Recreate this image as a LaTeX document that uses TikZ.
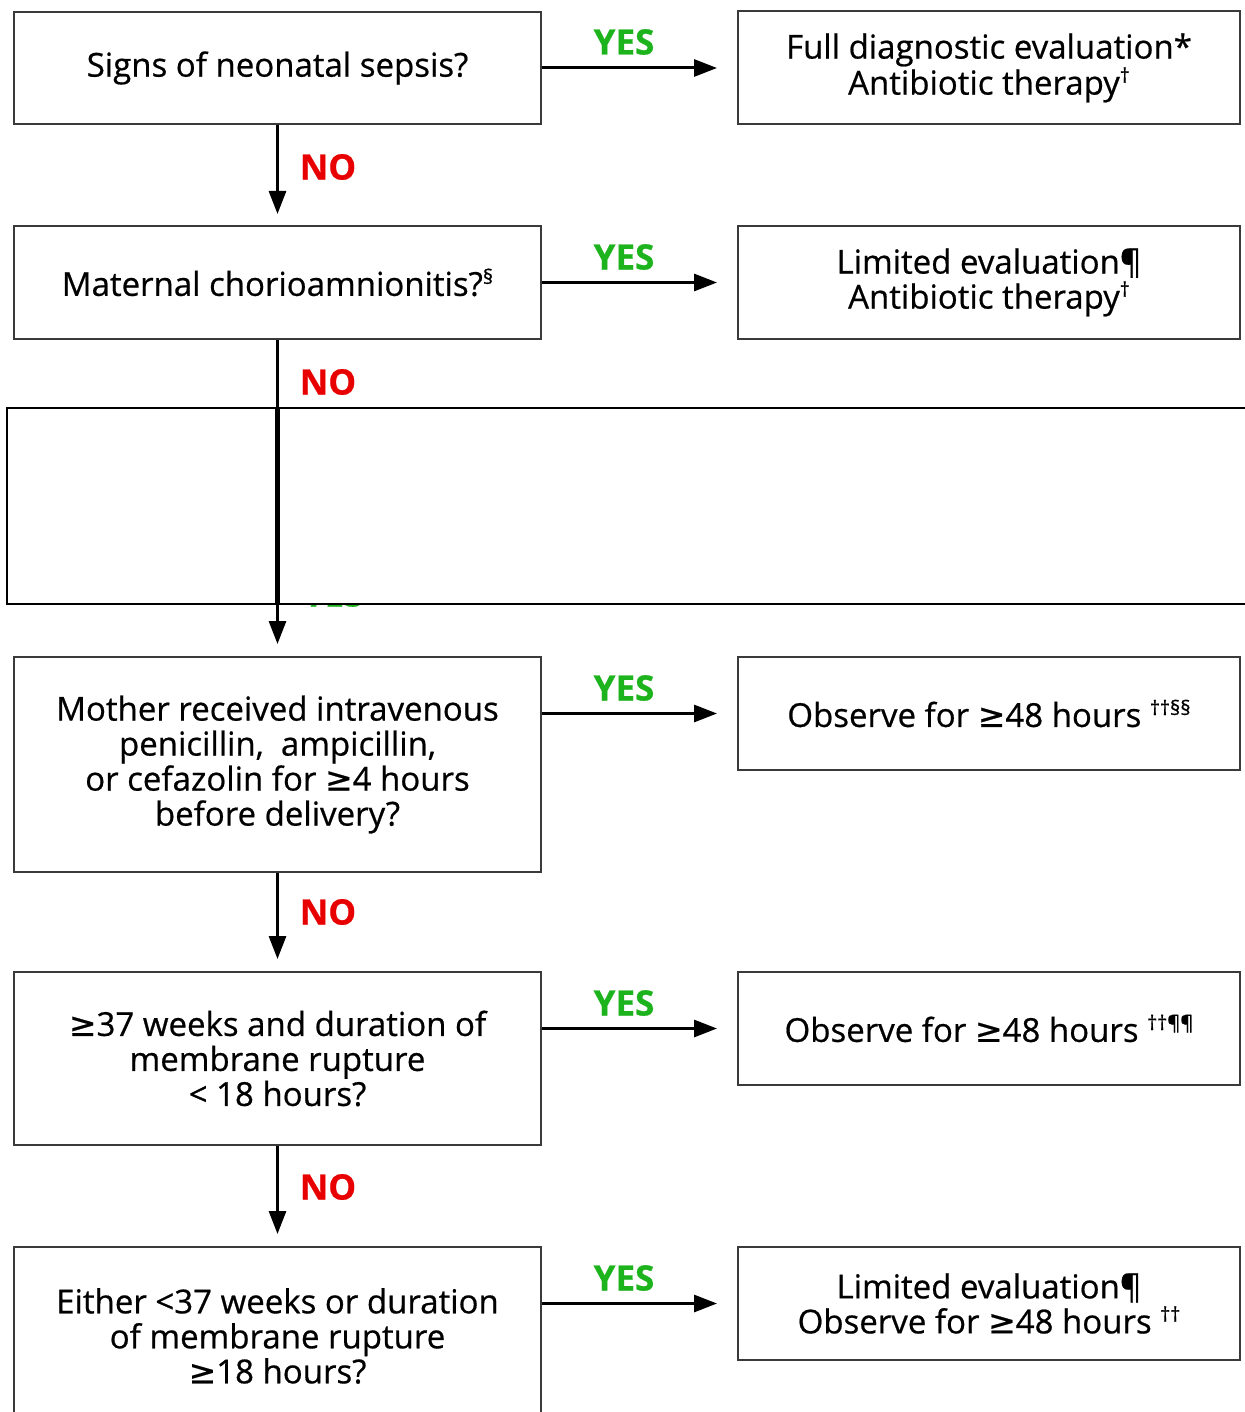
\documentclass[tikz,border=0pt]{standalone}
\usepackage{fontspec}
\setmainfont[FakeBold=0.6]{Open Sans}
\newfontfamily\symf[FakeBold=0.6]{DejaVu Sans}
\usetikzlibrary{arrows.meta}
\definecolor{boxgray}{HTML}{3A3A3A}
\definecolor{yesgreen}{HTML}{1DB31D}
\definecolor{nored}{HTML}{E80000}
\newcommand\gesym{{\symf ≥}}
\newcommand\mysup[1]{\raisebox{0.36em}{\fontsize{20}{20}\selectfont #1}}
\newcommand\mainsz{\fontsize{33}{35}\selectfont}
\newcommand\labsz{\fontsize{35}{35}\selectfont}
\begin{document}
\begin{tikzpicture}[x=1pt,y=-1pt,
  box/.style={draw=boxgray, line width=2pt, fill=white, inner sep=0pt, align=center, font=\mainsz},
  lbox/.style={box, minimum width=527pt},
  rbox/.style={box, minimum width=502pt, minimum height=113pt},
  yeslab/.style={text=yesgreen, font=\bfseries\labsz, inner sep=0pt},
  nolab/.style={text=nored, font=\bfseries\labsz, inner sep=0pt},
  arr/.style={line width=3pt, draw=black, -{Triangle[length=23pt,width=17pt]}},
]
\useasboundingbox (0,0) rectangle (1244,1412);
\fill[white] (0,0) rectangle (1244,1412);

% left column
\node[lbox, minimum height=112pt] (l1) at (277.5,68) {Signs of neonatal sepsis?};
\node[lbox, minimum height=113pt] (l2) at (277.5,282.5) {Maternal chorioamnionitis?\mysup{§}};
\node[lbox, minimum height=215pt] (l3) at (277.5,764.5) {Mother received intravenous\\penicillin,\ \ ampicillin,\\or cefazolin for \gesym4 hours\\before delivery?};
\node[lbox, minimum height=173pt] (l4) at (277.5,1058.5) {\gesym37 weeks and duration of\\membrane rupture\\< 18 hours?};
\node[lbox, minimum height=178pt] (l5) at (277.5,1336) {Either <37 weeks or duration\\of membrane rupture\\\gesym18 hours?};

% right column
\node[rbox] (r1) at (989,68) {Full diagnostic evaluation*\\Antibiotic therapy\mysup{†}};
\node[rbox] (r2) at (989,282.5) {Limited evaluation¶\\Antibiotic therapy\mysup{†}};
\node[rbox] (r3) at (989,713.5) {Observe for \gesym48 hours \mysup{††§§}};
\node[rbox] (r4) at (989,1028.5) {Observe for \gesym48 hours \mysup{††¶¶}};
\node[rbox] (r5) at (989,1303.5) {Limited evaluation¶\\Observe for \gesym48 hours \mysup{††}};

% YES arrows
\foreach \i/\ly in {1/42,2/257,3/688,4/1003,5/1278}{
  \draw[arr] (l\i.east |- r\i.west) -- ([xshift=-20pt]r\i.west);
  \node[yeslab] (y\i) at (624,\ly) {YES};
}

% NO arrows
\draw[arr] (l1.south) -- ([yshift=11pt]l2.north);
\node[nolab] (n1) at (328,167) {NO};
\node[nolab] (n2) at (328,382) {NO};
\draw[arr] (l3.south) -- ([yshift=12pt]l4.north);
\node[nolab] (n3) at (328,912) {NO};
\draw[arr] (l4.south) -- ([yshift=12pt]l5.north);
\node[nolab] (n4) at (328,1187) {NO};

% hidden YES under the blank panel
\node[yeslab] (yh) at (333,594) {YES};
% blank panel
\node[draw=black, line width=2.2pt, fill=white, inner sep=0pt, minimum width=1260pt, minimum height=196pt] (blank) at (637,506) {};
% long arrow through the panel
\draw[arr] (l2.south) -- ([yshift=12pt]l3.north);
\coordinate (bt) at (l2.south |- blank.north);
\coordinate (bb) at (l2.south |- blank.south);
\draw[line width=5.5pt] (bt) -- (bb);
\end{tikzpicture}
\end{document}
